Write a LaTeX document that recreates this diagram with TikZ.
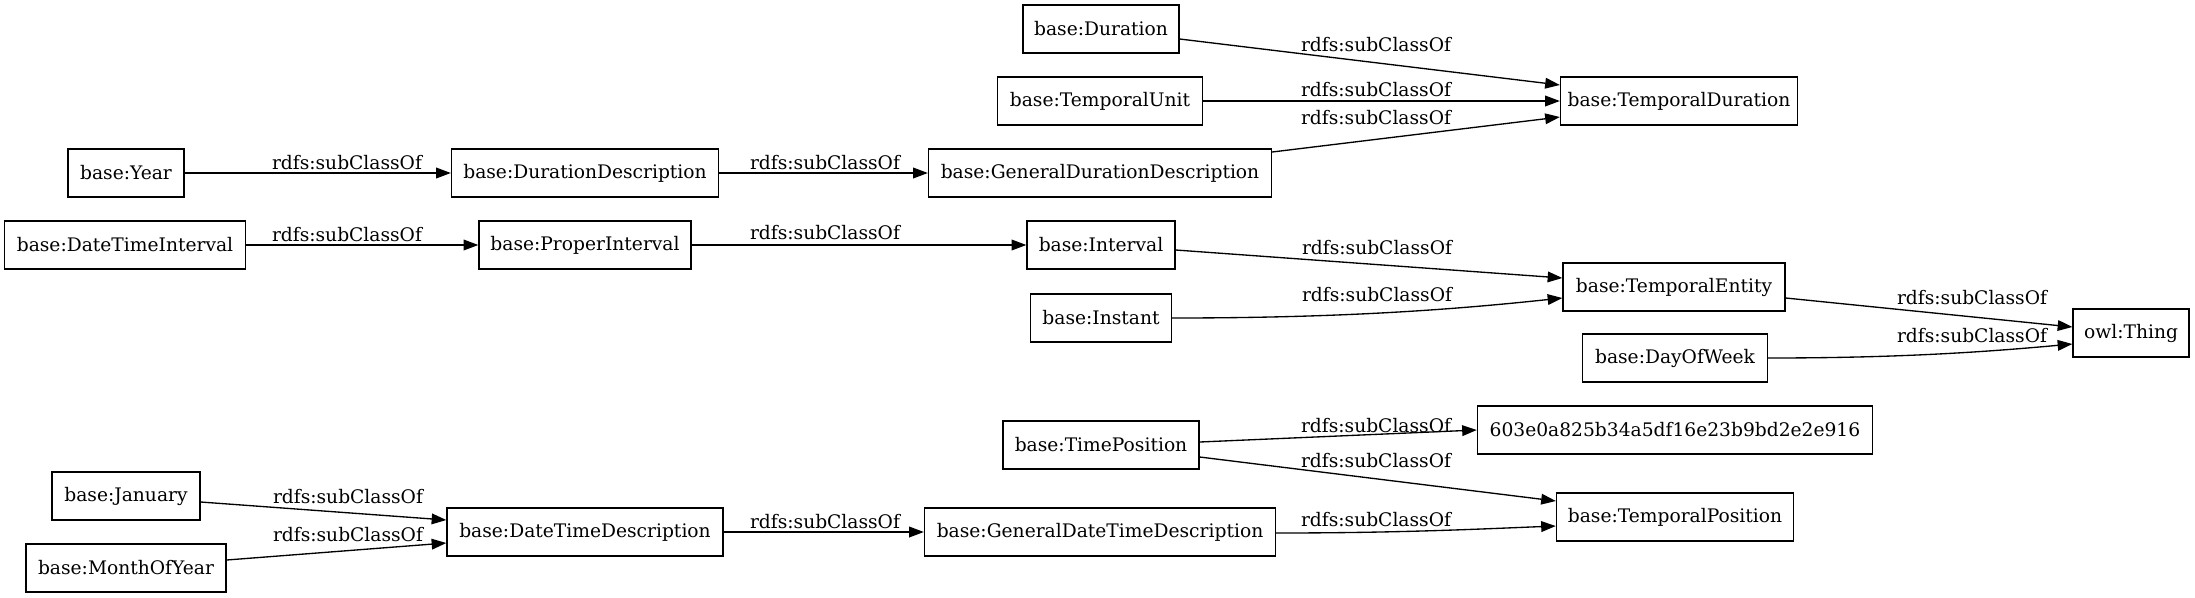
\documentclass[tikz,border=0pt]{standalone}
\usepackage{fontspec}
\setmainfont{DejaVu Serif}
\usetikzlibrary{arrows.meta,calc}
\begin{document}
\begin{tikzpicture}[x=0.75pt,y=-0.75pt,
  box/.style={draw,rectangle,line width=1pt,minimum height=36pt,inner sep=0pt,font=\fontsize{14pt}{17pt}\selectfont},
  edge/.style={line width=1pt,-{Triangle[length=11pt,width=8pt]}},
  lbl/.style={inner sep=0pt,font=\fontsize{14pt}{17pt}\selectfont}]
\useasboundingbox (0,0) rectangle (2195,597);
% nodes
\node[box,minimum width=117pt] (dur) at (1101,29) {base:Duration};
\node[box,minimum width=153.75pt] (tu) at (1100,101) {base:TemporalUnit};
\node[box,minimum width=177.75pt] (td) at (1679,101) {base:TemporalDuration};
\node[box,minimum width=87pt] (year) at (126,173) {base:Year};
\node[box,minimum width=200.25pt] (dd) at (585,173) {base:DurationDescription};
\node[box,minimum width=257.25pt] (gdd) at (1100,173) {base:GeneralDurationDescription};
\node[box,minimum width=180.75pt] (dti) at (125,245) {base:DateTimeInterval};
\node[box,minimum width=159pt] (pi) at (585,245) {base:ProperInterval};
\node[box,minimum width=111pt] (int) at (1101,245) {base:Interval};
\node[box,minimum width=105.75pt] (inst) at (1101,318) {base:Instant};
\node[box,minimum width=166.5pt] (te) at (1674,287) {base:TemporalEntity};
\node[box,minimum width=138.75pt] (dow) at (1675,358) {base:DayOfWeek};
\node[box,minimum width=87pt] (thing) at (2131,333) {owl:Thing};
\node[box,minimum width=147pt] (tp) at (1101,445) {base:TimePosition};
\node[box,minimum width=296.25pt] (hash) at (1675,430) {603e0a825b34a5df16e23b9bd2e2e916};
\node[box,minimum width=177.75pt] (tpos) at (1675,517) {base:TemporalPosition};
\node[box,minimum width=111pt] (jan) at (126,496) {base:January};
\node[box,minimum width=150pt] (moy) at (126,568) {base:MonthOfYear};
\node[box,minimum width=207pt] (dtd) at (585,532) {base:DateTimeDescription};
\node[box,minimum width=263.25pt] (gdtd) at (1100,532) {base:GeneralDateTimeDescription};
% edges
\draw[edge] ($(dur.east)+(0,10)$) -- ($(td.west)+(0,-16)$);
\node[lbl] (l1) at (1376,45) {rdfs:subClassOf};
\draw[edge] (tu.east) -- (td.west);
\node[lbl] (l2) at (1376,90) {rdfs:subClassOf};
\draw[edge] ($(gdd.east)+(0,-21)$) -- ($(td.west)+(0,16)$);
\node[lbl] (l3) at (1376,118) {rdfs:subClassOf};
\draw[edge] (year.east) -- (dd.west);
\node[lbl] (l4) at (347,163) {rdfs:subClassOf};
\draw[edge] (dd.east) -- (gdd.west);
\node[lbl] (l5) at (825,163) {rdfs:subClassOf};
\draw[edge] (dti.east) -- (pi.west);
\node[lbl] (l6) at (347,235) {rdfs:subClassOf};
\draw[edge] (pi.east) -- (int.west);
\node[lbl] (l7) at (825,233) {rdfs:subClassOf};
\draw[edge] ($(int.east)+(0,5)$) -- ($(te.west)+(0,-9)$);
\node[lbl] (l8) at (1377,248) {rdfs:subClassOf};
\draw[edge] (inst.east) .. controls (1340,318) and (1450,310) .. ($(te.west)+(0,11)$);
\node[lbl] (l9) at (1377,295) {rdfs:subClassOf};
\draw[edge] ($(te.east)+(0,11)$) -- ($(thing.west)+(0,-6)$);
\node[lbl] (l10) at (1972,298) {rdfs:subClassOf};
\draw[edge] (dow.east) .. controls (1900,358) and (1985,352) .. ($(thing.west)+(0,11)$);
\node[lbl] (l11) at (1972,336) {rdfs:subClassOf};
\draw[edge] ($(tp.east)+(0,-3)$) -- (hash.west);
\node[lbl] (l12) at (1376,426) {rdfs:subClassOf};
\draw[edge] ($(tp.east)+(0,12)$) -- ($(tpos.west)+(0,-16)$);
\node[lbl] (l13) at (1376,461) {rdfs:subClassOf};
\draw[edge] ($(jan.east)+(0,6)$) -- ($(dtd.west)+(0,-12)$);
\node[lbl] (l14) at (348,497) {rdfs:subClassOf};
\draw[edge] ($(moy.east)+(0,-8)$) -- ($(dtd.west)+(0,11)$);
\node[lbl] (l15) at (348,535) {rdfs:subClassOf};
\draw[edge] (dtd.east) -- (gdtd.west);
\node[lbl] (l16) at (825,522) {rdfs:subClassOf};
\draw[edge] ($(gdtd.east)+(0,1)$) .. controls (1400,533) and (1480,529) .. ($(tpos.west)+(0,9)$);
\node[lbl] (l17) at (1376,520) {rdfs:subClassOf};
\end{tikzpicture}
\end{document}
